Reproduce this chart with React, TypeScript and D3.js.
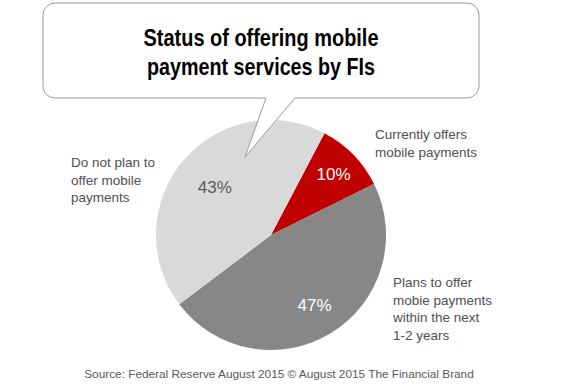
import * as d3 from "d3";

const categories = ["Currently offers mobile payments", "Plans to offer mobie payments within the next 1-2 years", "Do not plan to offer mobile payments"];
const values = [10, 47, 43];
const percentLabels = ["10%", "47%", "43%"];
const labelLines = [
  ["Currently offers", "mobile payments"],
  ["Plans to offer", "mobie payments", "within the next", "1-2 years"],
  ["Do not plan to", "offer mobile", "payments"],
];
const titleLines = ["Status of offering mobile", "payment services by FIs"];
const titleWidths = [235, 228];
const sourceText = "Source: Federal Reserve August 2015 © August 2015 The Financial Brand";

const colors = ["#c00000", "#878787", "#d9d9d9"];
const pctColors = ["#ffffff", "#ffffff", "#595959"];

export default function App() {
  const width = 565;
  const height = 389;
  const cx = 271;
  const cy = 235;
  const r = 115;
  const start = (27.7 * Math.PI) / 180;

  const pie = d3
    .pie<number>()
    .sort(null)
    .startAngle(start)
    .endAngle(start + 2 * Math.PI);
  const arcs = pie(values);
  const arc = d3.arc<d3.PieArcDatum<number>>().innerRadius(0).outerRadius(r);

  // label radius factor per slice
  const pctRadius = [0.76, 0.72, 0.64];

  // speech bubble
  const bx0 = 43, bx1 = 479, by0 = 3, by1 = 98, br = 12;
  const bubble = d3.path();
  bubble.moveTo(bx0 + br, by0);
  bubble.lineTo(bx1 - br, by0);
  bubble.arcTo(bx1, by0, bx1, by0 + br, br);
  bubble.lineTo(bx1, by1 - br);
  bubble.arcTo(bx1, by1, bx1 - br, by1, br);
  bubble.lineTo(295, by1);
  bubble.lineTo(245, 157);
  bubble.lineTo(266, by1);
  bubble.lineTo(bx0 + br, by1);
  bubble.arcTo(bx0, by1, bx0, by1 - br, br);
  bubble.lineTo(bx0, by0 + br);
  bubble.arcTo(bx0, by0, bx0 + br, by0, br);
  bubble.closePath();

  const labelPos = [
    { x: 375, y: 139 },
    { x: 393, y: 287 },
    { x: 71, y: 167 },
  ];

  const labelFont = "'Liberation Sans', Arial, sans-serif";

  return (
    <svg width={width} height={height} style={{ position: "absolute", left: 0, top: 0 }}>
      <rect width={width} height={height} fill="#ffffff" />
      <g transform={`translate(${cx},${cy})`}>
        {arcs.map((a, i) => (
          <path key={categories[i]} d={arc(a) ?? ""} fill={colors[i]} />
        ))}
        {arcs.map((a, i) => {
          const mid = (a.startAngle + a.endAngle) / 2;
          const rr = r * pctRadius[i];
          return (
            <text
              key={"p" + i}
              x={Math.sin(mid) * rr}
              y={-Math.cos(mid) * rr}
              dy="0.35em"
              textAnchor="middle"
              fontFamily={labelFont}
              fontSize={17}
              fill={pctColors[i]}
            >
              {percentLabels[i]}
            </text>
          );
        })}
      </g>
      <path d={bubble.toString()} fill="#ffffff" stroke="#9a9a9a" strokeWidth={1} />
      {titleLines.map((t, i) => (
        <text
          key={t}
          x={261}
          y={46 + i * 29}
          textAnchor="middle"
          textLength={titleWidths[i]}
          lengthAdjust="spacingAndGlyphs"
          fontFamily={labelFont}
          fontWeight="bold"
          fontSize={24}
          fill="#000000"
        >
          {t}
        </text>
      ))}
      {labelLines.map((lines, i) => (
        <text key={"l" + i} fontFamily={labelFont} fontSize={13.5} fill="#505050">
          {lines.map((ln, j) => (
            <tspan key={ln} x={labelPos[i].x} y={labelPos[i].y + j * 17.5}>
              {ln}
            </tspan>
          ))}
        </text>
      ))}
      <text x={279} y={378} textAnchor="middle" fontFamily={labelFont} fontSize={11.8} fill="#595959">
        {sourceText}
      </text>
    </svg>
  );
}
